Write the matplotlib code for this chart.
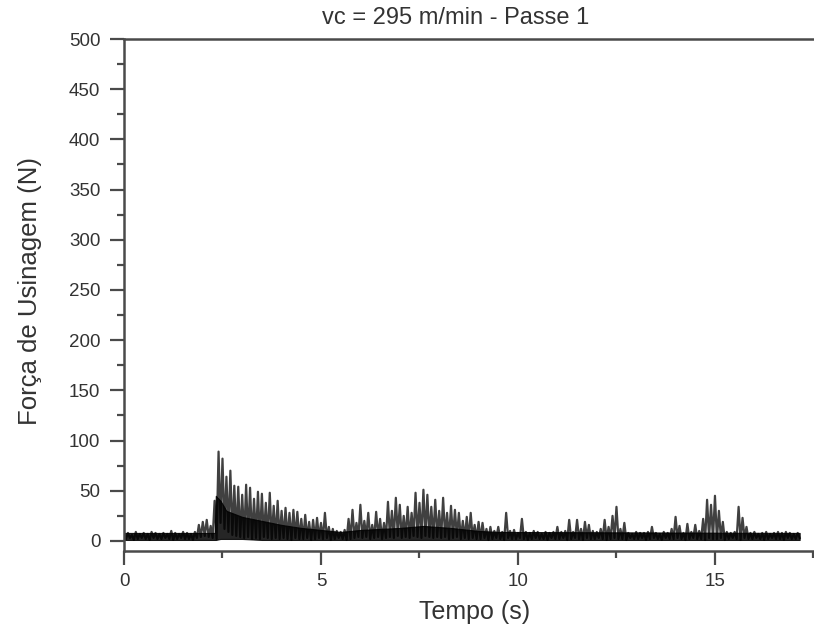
import numpy as np
import matplotlib
matplotlib.use("Agg")
import matplotlib.pyplot as plt
from matplotlib.ticker import MultipleLocator

# Machining force signal, vc = 295 m/min, pass 1
# Upper excursions (N) at t = 0.0, 0.1, ... 17.1 s
pico = [
    7, 8, 6, 9, 7, 8, 7, 9, 8, 7,
    8, 7, 10, 8, 7, 9, 8, 7, 9, 16,
    19, 21, 15, 40, 89, 82, 64, 70, 55, 54,
    46, 56, 53, 42, 49, 47, 38, 48, 35, 40,
    30, 33, 28, 31, 29, 22, 26, 19, 21, 23,
    18, 28, 14, 12, 10, 9, 11, 22, 31, 18,
    36, 20, 28, 16, 29, 22, 18, 39, 30, 43,
    36, 25, 34, 28, 48, 38, 51, 46, 34, 41,
    30, 43, 28, 35, 31, 28, 20, 24, 28, 16,
    19, 18, 12, 14, 10, 14, 9, 28, 10, 11,
    8, 22, 9, 8, 10, 9, 7, 9, 8, 9,
    14, 9, 10, 21, 9, 21, 12, 19, 16, 10,
    9, 12, 21, 14, 25, 34, 12, 18, 8, 7,
    9, 8, 8, 9, 14, 8, 7, 9, 8, 12,
    24, 15, 8, 17, 9, 16, 10, 22, 41, 36,
    45, 30, 19, 9, 8, 9, 34, 23, 14, 8,
    9, 7, 8, 9, 7, 8, 9, 8, 9, 8,
    7, 8,
]
# Lower excursions (N) at t = 0.05, 0.15, ... 17.15 s
vale = [
    2, 3, 1, 2, 3, 2, 1, 3, 2, 2,
    3, 2, 1, 2, 3, 2, 2, 1, 3, 4,
    5, 4, 3, 2, 18, 12, 9, 6, 5, 4,
    3, 4, 2, 3, 2, 4, 3, 2, 3, 2,
    3, 2, 1, 3, 2, 2, 3, 1, 2, 3,
    2, 3, 1, 2, 3, 2, 1, 2, 3, 4,
    3, 4, 2, 3, 4, 2, 3, 4, 3, 5,
    3, 4, 3, 5, 4, 3, 5, 4, 3, 4,
    3, 4, 2, 3, 4, 2, 3, 2, 3, 2,
    2, 3, 1, 2, 3, 2, 1, 3, 2, 2,
    3, 2, 1, 2, 3, 2, 2, 1, 3, 2,
    2, 3, 1, 2, 3, 2, 1, 3, 2, 2,
    3, 2, 1, 2, 3, 2, 2, 1, 3, 2,
    2, 3, 1, 2, 3, 2, 1, 3, 2, 2,
    3, 2, 1, 2, 3, 2, 2, 1, 3, 2,
    2, 3, 1, 2, 3, 2, 1, 3, 2, 2,
    3, 2, 1, 2, 3, 2, 2, 1, 3, 2,
    2, 3,
]
passo = 0.1

# Dense core of the trace: band where the oscillation is continuous
nucleo_tempo = [0.0, 2.30, 2.33, 2.45, 2.6, 3.0, 3.5, 4.0, 4.5, 5.0, 5.5,
                 6.0, 7.0, 7.6, 8.3, 9.0, 9.5, 17.15]
nucleo_sup = [8, 8, 45, 40, 30, 24, 20, 16, 13, 11, 9,
              11, 13, 15, 13, 10, 9, 8]
nucleo_inf = [1, 1, 1, 2, 2, 2, 1, 1, 1, 1, 1,
              1, 1, 1, 1, 1, 1, 1]

titulo = "vc = 295 m/min - Passe 1"
rotulo_x = "Tempo (s)"
rotulo_y = "Força de Usinagem (N)"

n = len(pico)
t_pico = np.arange(n) * passo
t_vale = t_pico + passo / 2
tempo = np.empty(2 * n)
forca = np.empty(2 * n)
tempo[0::2], tempo[1::2] = t_pico, t_vale
forca[0::2], forca[1::2] = pico, vale

plt.rcParams["font.family"] = ["Liberation Sans", "DejaVu Sans"]
cinza = "#333333"
eixo = "#4a4a4a"

fig = plt.figure(figsize=(8.14, 6.34), dpi=100)
ax = fig.add_axes([124 / 814, 83 / 634, 693.4 / 814, 512 / 634])

ax.fill_between(nucleo_tempo, nucleo_inf, nucleo_sup, color="black",
                lw=0.8, edgecolor="black", alpha=0.85)
ax.plot(tempo, forca, color="black", lw=1.6, alpha=0.75)

ax.set_xlim(0, 17.6)
ax.set_ylim(-10, 500)
ax.xaxis.set_major_locator(MultipleLocator(5))
ax.xaxis.set_minor_locator(MultipleLocator(2.5))
ax.yaxis.set_major_locator(MultipleLocator(50))
ax.yaxis.set_minor_locator(MultipleLocator(25))

for s in ax.spines.values():
    s.set_color(eixo)
    s.set_linewidth(1.8)
ax.tick_params(which="major", direction="out", length=10, width=1.6,
               color=eixo, labelsize=13.5, labelcolor=cinza, pad=6)
ax.tick_params(which="minor", direction="out", length=5, width=1.6, color=eixo)
ax.tick_params(axis="y", which="major", pad=7)

fig.text(456 / 814, 1 - 18 / 634, titulo, ha="center", va="center",
         fontsize=17, color=cinza)
fig.text(475 / 814, 1 - 612 / 634, rotulo_x, ha="center", va="center",
         fontsize=18, color=cinza)
fig.text(30 / 814, 1 - 291 / 634, rotulo_y, ha="center", va="center",
         rotation=90, fontsize=18.5, color=cinza)

fig.savefig("out.png", dpi=100)
